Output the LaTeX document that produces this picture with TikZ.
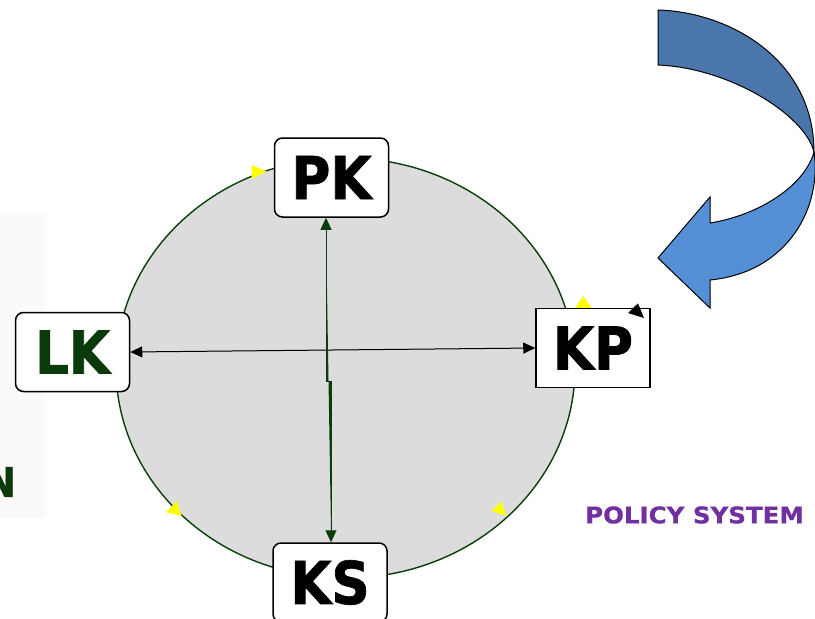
\documentclass[tikz,border=0pt]{standalone}
\usepackage{fontspec}
\setmainfont{DejaVu Sans}
\newfontfamily\boxfont[FakeStretch=0.9,FakeBold=1.2]{DejaVu Sans Bold}
\newfontfamily\policyfont[FakeStretch=1.07,FakeBold=0.8]{DejaVu Sans Bold}
\usetikzlibrary{arrows.meta}
\definecolor{ringgreen}{HTML}{0B3D0B}
\definecolor{lkgreen}{HTML}{0A3A0A}
\definecolor{discgray}{HTML}{DCDCDC}
\definecolor{panel}{HTML}{FBFAF8}
\definecolor{backblue}{HTML}{4A76AC}
\definecolor{frontblue}{HTML}{5590D6}
\definecolor{policypurple}{HTML}{7030A0}
\definecolor{marker}{HTML}{FFFF00}
\begin{document}
\begin{tikzpicture}[x=1pt,y=-1pt,
  keybox/.style={draw=black, line width=1.5pt, fill=white,
    minimum width=114pt, minimum height=79pt, inner sep=0pt,
    font=\boxfont\fontsize{59}{60}\selectfont},
  roundbox/.style={keybox, rounded corners=8pt},
  link/.style={line width=1pt,
    {Triangle[length=12pt,width=11pt]}-{Triangle[length=12pt,width=11pt]}},
  bandline/.style={draw=black, line width=1pt}
]
\useasboundingbox (0,0) rectangle (815,619);

% faint side panel
\fill[panel] (0,213) rectangle (45,518);
\node[anchor=east, inner sep=0pt, text=lkgreen,
  font=\boxfont\fontsize{41}{42}\selectfont] (sideN) at (16,482) {N};

% the cycle disc
\filldraw[fill=discgray, draw=ringgreen, line width=1.4pt]
  (345.5,368) ellipse [x radius=229.5, y radius=210];

% direction markers on the ring
\fill[marker] (251.7,165) -- (251.7,179) -- (266.7,171.5) -- cycle;
\fill[marker] (575,308) -- (583.3,296) -- (591.7,308) -- cycle;
\fill[marker] (166,512.3) -- (176.7,501) -- (181.7,516) -- cycle;
\fill[marker] (491.7,511) -- (501,501.7) -- (506.7,516) -- cycle;

% the four stations
\node[roundbox] (PK) at (331.5,177.5) {PK};
\node[keybox]   (KP) at (593,348) {KP};
\node[roundbox, text=lkgreen] (LK) at (72.5,352) {LK};
\node[roundbox] (KS) at (330,582.5) {KS};

% connectors
\draw[link, draw=black, fill=black] (LK.east) -- (KP.west);
\coordinate (jogA) at (326,381);
\coordinate (jogB) at (331,381);
\draw[link, draw=ringgreen, fill=ringgreen]
  (PK.south -| jogA) -- (jogA) -- (jogB) -- (KS.north -| jogB);

% small tip at the corner of KP
\fill[black] (628,313) -- (638,303.3) -- (644,318) -- cycle;

% curved block arrow, back band then front band
\filldraw[fill=backblue, bandline]
  (658,10) .. controls (730,12) and (814,60) .. (814,152)
  .. controls (805,115) and (730,68) .. (658,65) -- cycle;
\filldraw[fill=frontblue, bandline]
  (814,152) .. controls (822,205) and (790,272) .. (710,280)
  -- (710,308) -- (658,258) -- (710,197) -- (710,223)
  .. controls (760,215) and (805,185) .. (814,152) -- cycle;

% caption
\node[inner sep=0pt, text=policypurple,
  font=\policyfont\fontsize{22.9}{24}\selectfont] (policy) at (694.5,515) {POLICY SYSTEM};
\end{tikzpicture}
\end{document}
